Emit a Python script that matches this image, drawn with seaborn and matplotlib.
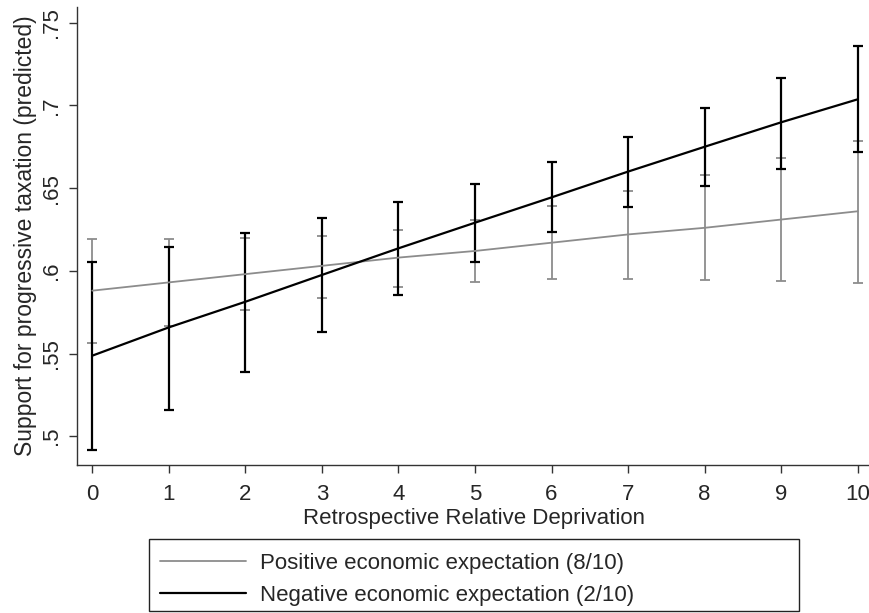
import numpy as np
import pandas as pd
import matplotlib
matplotlib.use("Agg")
import matplotlib.pyplot as plt
from matplotlib.lines import Line2D
from matplotlib.patches import Rectangle
import seaborn as sns

# Predicted support by retrospective relative deprivation (0-10)
deprivation = [0, 1, 2, 3, 4, 5, 6, 7, 8, 9, 10]

# Positive economic expectation (8/10)
pos_pred = [0.588, 0.593, 0.598, 0.603, 0.608, 0.612, 0.617, 0.622, 0.626, 0.631, 0.636]
pos_lo = [0.5565, 0.5666, 0.5763, 0.5837, 0.5904, 0.5932, 0.5950, 0.5952, 0.5946, 0.5938, 0.5928]
pos_hi = [0.6192, 0.6190, 0.6196, 0.6212, 0.6249, 0.6307, 0.6394, 0.6482, 0.6580, 0.6682, 0.6783]

# Negative economic expectation (2/10)
neg_pred = [0.5487, 0.5658, 0.5813, 0.5975, 0.6136, 0.6291, 0.6444, 0.6600, 0.6750, 0.6898, 0.7037]
neg_lo = [0.4917, 0.5157, 0.5390, 0.5628, 0.5852, 0.6055, 0.6237, 0.6388, 0.6511, 0.6616, 0.6716]
neg_hi = [0.6055, 0.6142, 0.6227, 0.6319, 0.6416, 0.6527, 0.6656, 0.6807, 0.6982, 0.7167, 0.7359]

series_labels = ["Positive economic expectation (8/10)",
                 "Negative economic expectation (2/10)"]
y_ticks = [0.5, 0.55, 0.6, 0.65, 0.7, 0.75]
y_ticklabels = [".5", ".55", ".6", ".65", ".7", ".75"]
x_label = "Retrospective Relative Deprivation"
y_label = "Support for progressive taxation (predicted)"

GRAY = "#8c8c8c"
BLACK = "#000000"
colors = {series_labels[0]: GRAY, series_labels[1]: BLACK}
widths = {series_labels[0]: 1.3, series_labels[1]: 1.6}
FS = 16
W, H = 870, 613

df = pd.concat([
    pd.DataFrame({"x": deprivation, "pred": pos_pred, "lo": pos_lo, "hi": pos_hi,
                  "group": series_labels[0]}),
    pd.DataFrame({"x": deprivation, "pred": neg_pred, "lo": neg_lo, "hi": neg_hi,
                  "group": series_labels[1]}),
], ignore_index=True)

sns.set_theme(style="white")
plt.rcParams["font.family"] = ["Liberation Sans", "DejaVu Sans"]

fig = plt.figure(figsize=(W / 100, H / 100), dpi=100)
ax = fig.add_axes([77.5 / W, 1 - 465 / H, 1 - 77.5 / W, (465 - 7) / H])

for grp in series_labels:
    sub = df[df["group"] == grp]
    ax.errorbar(sub["x"], sub["pred"],
                yerr=[sub["pred"] - sub["lo"], sub["hi"] - sub["pred"]],
                fmt="none", ecolor=colors[grp], elinewidth=widths[grp],
                capsize=3.8, capthick=widths[grp], zorder=2)
    sns.lineplot(data=sub, x="x", y="pred", color=colors[grp],
                 linewidth=widths[grp], ax=ax, zorder=3, legend=False)

ax.set_xlim(-0.193, 10.16)
ax.set_ylim(0.4826, 0.7595)
ax.set_xticks(deprivation)
ax.set_xticklabels([str(v) for v in deprivation], fontsize=FS)
ax.set_yticks(y_ticks)
ax.set_yticklabels(y_ticklabels, fontsize=FS, rotation=90, va="center")
ax.tick_params(axis="both", direction="out", length=6, width=1.0,
               color="#333333", left=True, bottom=True)
ax.tick_params(axis="x", pad=8)
ax.tick_params(axis="y", pad=5)

for side in ["top", "right"]:
    ax.spines[side].set_visible(False)
for side in ["left", "bottom"]:
    ax.spines[side].set_color("#333333")
    ax.spines[side].set_linewidth(1.0)

ax.set_xlabel(x_label, fontsize=FS, labelpad=2)
ax.set_ylabel(y_label, fontsize=16.5, labelpad=3)

# Legend box below the plot, with its own frame
fig.add_artist(Rectangle((149 / W, 1 - 611 / H), 650 / W, 72 / H,
                         transform=fig.transFigure, fill=False,
                         edgecolor="#222222", linewidth=1.0))
handles = [Line2D([0], [0], color=GRAY, lw=1.3),
           Line2D([0], [0], color=BLACK, lw=1.6)]
leg = fig.legend(handles, series_labels, loc="upper left",
                 bbox_to_anchor=(149 / W, 1 - 542 / H),
                 fontsize=FS, frameon=False, handlelength=3.85,
                 handletextpad=0.64, labelspacing=0.5, borderpad=0.0,
                 borderaxespad=0.5)

fig.savefig("out.png", dpi=100, facecolor="white")
